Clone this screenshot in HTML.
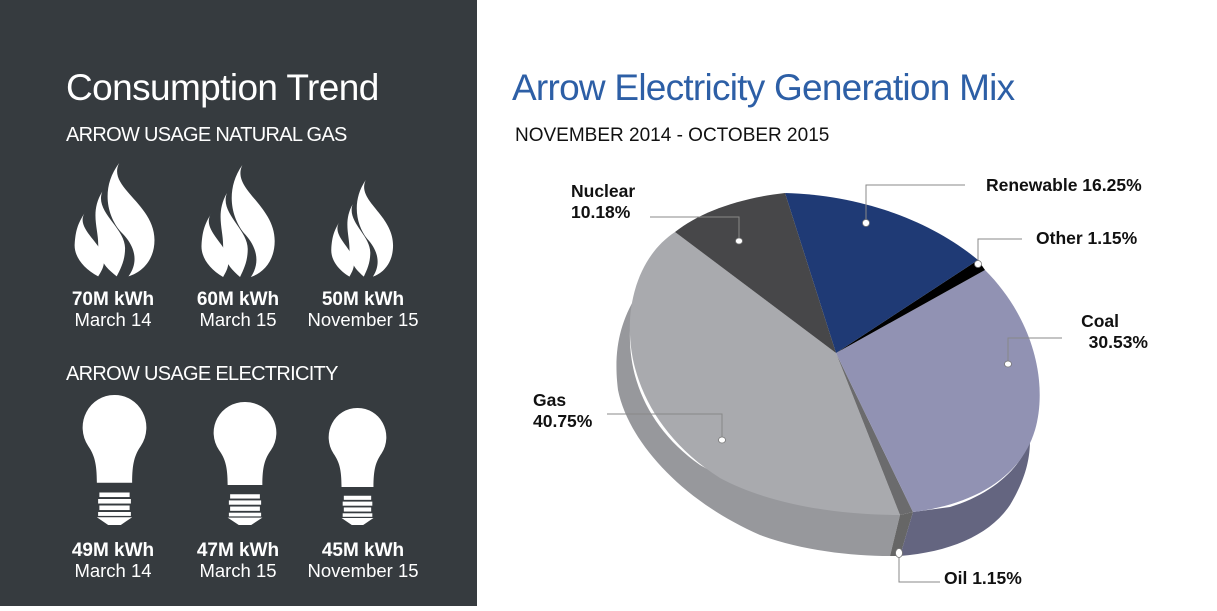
<!DOCTYPE html>
<html><head><style>
body{margin:0;width:1217px;height:606px;overflow:hidden;background:#fff;font-family:"Liberation Sans",sans-serif}
</style></head><body>
<svg width="1217" height="606" xmlns="http://www.w3.org/2000/svg" font-family="Liberation Sans, sans-serif">
<rect x="0" y="0" width="477" height="606" fill="#363b3f"/>
<text x="66" y="100" fill="#fff" font-size="37" font-weight="300" letter-spacing="-0.6">Consumption Trend</text>
<text x="66" y="141" fill="#fff" font-size="20" letter-spacing="-0.7">ARROW USAGE NATURAL GAS</text>
<text x="66" y="380" fill="#fff" font-size="20" letter-spacing="-0.7">ARROW USAGE ELECTRICITY</text>
<defs>
<g id="fl" fill="#fff">
<path d="M55,0 C40,30 97,50 97,95 C97,120 82,135 66,140 C80,120 72,100 57,85 C40,65 33,30 55,0Z"/>
<path d="M35,35 C25,60 62,80 62,105 C62,120 57,130 52,140 C40,130 30,120 30,100 C30,80 20,60 35,35Z"/>
<path d="M15,60 C0,80 37,100 37,120 C37,130 32,136 30,140 C12,130 1,115 2,100 C3,85 5,75 15,60Z"/>
</g>
<g id="bulb" fill="#fff">
<path d="M50,0 A50,50 0 0 1 92,78 C82,92 78,105 78,135 L22,135 C22,105 18,92 8,78 A50,50 0 0 1 50,0Z"/>
<rect x="26" y="150" width="48" height="7"/><rect x="24" y="160" width="52" height="7"/><rect x="26" y="170" width="48" height="7"/><rect x="24" y="180" width="52" height="6"/>
<path d="M22,188 L78,188 L60,200 L40,200Z"/>
</g>
</defs>
<use href="#fl" transform="translate(73,163) scale(0.84,0.81)"/>
<use href="#fl" transform="translate(200,165) scale(0.77,0.8)"/>
<use href="#fl" transform="translate(330,180) scale(0.65,0.69)"/>
<use href="#bulb" transform="translate(83,395) scale(0.63,0.65)"/>
<use href="#bulb" transform="translate(214,402) scale(0.62,0.615)"/>
<use href="#bulb" transform="translate(329,408) scale(0.57,0.585)"/>
<g fill="#fff" font-size="18.5" text-anchor="middle">
<text x="113" y="305" font-weight="bold" font-size="19">70M kWh</text><text x="113" y="326">March 14</text>
<text x="238" y="305" font-weight="bold" font-size="19">60M kWh</text><text x="238" y="326">March 15</text>
<text x="363" y="305" font-weight="bold" font-size="19">50M kWh</text><text x="363" y="326">November 15</text>
<text x="113" y="556" font-weight="bold" font-size="19">49M kWh</text><text x="113" y="577">March 14</text>
<text x="238" y="556" font-weight="bold" font-size="19">47M kWh</text><text x="238" y="577">March 15</text>
<text x="363" y="556" font-weight="bold" font-size="19">45M kWh</text><text x="363" y="577">November 15</text>
</g>
<text x="512" y="100" fill="#2d5fa6" font-size="37" font-weight="300" letter-spacing="-0.75">Arrow Electricity Generation Mix</text>
<text x="515" y="141" fill="#111" font-size="19">NOVEMBER 2014 - OCTOBER 2015</text>
<!-- sides -->
<path d="M640,290 C620,320 613,350 618,390 C628,440 680,500 760,535 C800,550 850,556 890,556 L900,515 C850,513 760,500 700,465 C650,430 628,380 630,330Z" fill="#97989c"/>
<path d="M890,556 L900,556 L913,512 L900,515Z" fill="#666"/>
<path d="M900,556 C950,552 990,535 1010,505 C1025,480 1030,460 1030,440 C1020,470 990,495 950,507 L913,512Z" fill="#646580"/>
<!-- top -->
<path d="M836,353 L675,232 C640,255 628,300 630,335 C632,385 660,440 720,478 C770,505 840,515 900,515Z" fill="#a9aaae"/>
<path d="M836,353 L900,515 L913,512Z" fill="#6b6b6d"/>
<path d="M836,353 L913,512 C970,505 1020,480 1035,430 C1048,385 1035,320 985,270Z" fill="#9192b3"/>
<path d="M836,353 L985,270 L978,260Z" fill="#000"/>
<path d="M836,353 L978,260 C930,220 860,195 785,193Z" fill="#1f3a75"/>
<path d="M836,353 L785,193 C740,198 700,212 675,232Z" fill="#474749"/>
<!-- leaders -->
<g stroke="#888" fill="none" stroke-width="1">
<polyline points="650,217 739,217 739,241"/>
<polyline points="965,185 866,185 866,222"/>
<polyline points="1022,239 978,239 978,263"/>
<polyline points="1062,338 1008,338 1008,364"/>
<polyline points="607,414 722,414 722,440"/>
<polyline points="899,553 899,582 940,582"/>
</g>
<g fill="#fff" stroke="#777" stroke-width="0.8">
<ellipse cx="739" cy="241" rx="3.5" ry="3"/><ellipse cx="866" cy="223" rx="3.5" ry="3.5"/>
<ellipse cx="978" cy="264" rx="3.5" ry="3.5"/><ellipse cx="1008" cy="364" rx="3.5" ry="3"/>
<ellipse cx="722" cy="440" rx="3.5" ry="3"/><ellipse cx="899" cy="553" rx="3.5" ry="4.5"/>
</g>
<g fill="#111" font-size="17.5" font-weight="bold">
<text x="571" y="197">Nuclear</text><text x="571" y="218">10.18%</text>
<text x="986" y="191">Renewable 16.25%</text>
<text x="1036" y="244">Other 1.15%</text>
<text x="1119" y="327" text-anchor="end">Coal</text><text x="1148" y="348" text-anchor="end">30.53%</text>
<text x="533" y="406">Gas</text><text x="533" y="427">40.75%</text>
<text x="944" y="584">Oil 1.15%</text>
</g>
</svg>
</body></html>
